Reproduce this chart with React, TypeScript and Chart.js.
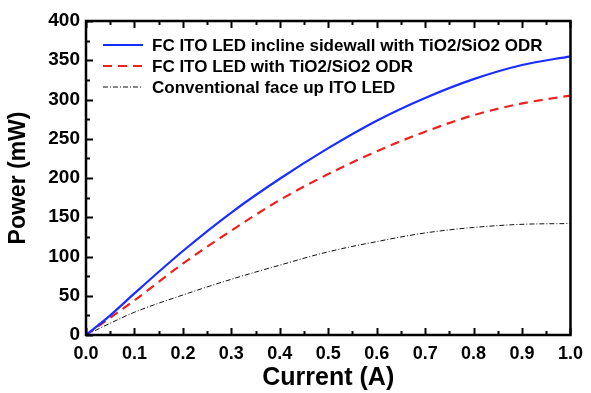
import React, { useEffect, useRef } from "react";
import { Chart, registerables } from "chart.js";

Chart.register(...registerables);

const currentA = [0, 0.05, 0.1, 0.2, 0.3, 0.4, 0.5, 0.6, 0.7, 0.8, 0.9, 1.0];
const inclineODR = [0, 25, 53, 107, 156, 199, 238, 273, 302, 326, 344, 355];
const flipChipODR = [0, 22, 44, 91, 133, 172, 205, 234, 259, 280, 295, 305];
const conventional = [0, 15, 29, 51, 71, 89, 106, 119, 130, 137, 141, 142];

const seriesLabels = [
  "FC ITO LED incline sidewall with TiO2/SiO2 ODR",
  "FC ITO LED with TiO2/SiO2 ODR",
  "Conventional face up ITO LED",
];
const xTitle = "Current (A)";
const yTitle = "Power (mW)";

const FONT = "'Liberation Sans', Arial, sans-serif";

const toPoints = (ys: number[]) => ys.map((y, i) => ({ x: currentA[i], y }));

const framePlugin = {
  id: "frameTicks",
  afterDatasetsDraw(chart: any) {
    const { ctx, chartArea } = chart;
    const { left, right, top, bottom } = chartArea;
    const xs = chart.scales.x;
    const ys = chart.scales.y;
    ctx.save();
    ctx.strokeStyle = "#000";
    ctx.lineWidth = 2;
    ctx.beginPath();
    for (let i = 0; i <= 20; i++) {
      const v = i * 0.05;
      const px = Math.round(xs.getPixelForValue(v)) + 0.5;
      const len = i % 2 === 0 ? 7 : 4;
      ctx.moveTo(px, bottom);
      ctx.lineTo(px, bottom - len);
      ctx.moveTo(px, top);
      ctx.lineTo(px, top + len);
    }
    for (let i = 0; i <= 16; i++) {
      const v = i * 25;
      const py = Math.round(ys.getPixelForValue(v)) + 0.5;
      const len = i % 2 === 0 ? 7 : 4;
      ctx.moveTo(left, py);
      ctx.lineTo(left + len, py);
    }
    ctx.stroke();
    ctx.lineWidth = 2.5;
    ctx.strokeRect(left, top, right - left, bottom - top);
    ctx.restore();
  },
};

const legendPlugin = {
  id: "innerLegend",
  afterDatasetsDraw(chart: any) {
    const { ctx } = chart;
    ctx.save();
    ctx.font = `bold 17px ${FONT}`;
    ctx.textBaseline = "middle";
    ctx.fillStyle = "#000";
    chart.data.datasets.forEach((ds: any, i: number) => {
      const y = 45 + i * 21;
      ctx.strokeStyle = ds.borderColor;
      ctx.lineWidth = ds.borderWidth;
      ctx.setLineDash(ds.borderDash || []);
      ctx.beginPath();
      ctx.moveTo(103, y);
      ctx.lineTo(143, y);
      ctx.stroke();
      ctx.setLineDash([]);
      ctx.fillText(ds.label, 152, y + 1);
    });
    ctx.restore();
  },
};

export default function App() {
  const ref = useRef<HTMLCanvasElement | null>(null);
  useEffect(() => {
    if (!ref.current) return;
    const chart = new Chart(ref.current, {
      type: "line",
      data: {
        datasets: [
          {
            label: seriesLabels[0],
            data: toPoints(inclineODR),
            borderColor: "#1a2eff",
            borderWidth: 2.2,
            pointRadius: 0,
            cubicInterpolationMode: "monotone",
          },
          {
            label: seriesLabels[1],
            data: toPoints(flipChipODR),
            borderColor: "#f02020",
            borderWidth: 2.2,
            borderDash: [9, 6],
            pointRadius: 0,
            cubicInterpolationMode: "monotone",
          },
          {
            label: seriesLabels[2],
            data: toPoints(conventional),
            borderColor: "#111",
            borderWidth: 1,
            borderDash: [5, 2, 1, 2],
            pointRadius: 0,
            cubicInterpolationMode: "monotone",
          },
        ],
      },
      options: {
        responsive: false,
        animation: false,
        layout: { padding: { top: 21, right: 15, left: 0, bottom: 0 } },
        plugins: { legend: { display: false }, tooltip: { enabled: false } },
        scales: {
          x: {
            type: "linear",
            min: 0,
            max: 1,
            grid: { display: false, drawTicks: false },
            border: { display: false },
            ticks: {
              stepSize: 0.1,
              padding: 8,
              color: "#000",
              font: { family: FONT, size: 18, weight: "bold" },
              callback: (v: any) => Number(v).toFixed(1),
              maxRotation: 0,
            },
            title: {
              display: true,
              text: xTitle,
              color: "#000",
              font: { family: FONT, size: 25, weight: "bold" },
              padding: { top: 0, bottom: 0 },
            },
            afterFit: (s: any) => {
              s.height = 58;
            },
          },
          y: {
            type: "linear",
            min: 0,
            max: 400,
            grid: { display: false, drawTicks: false },
            border: { display: false },
            ticks: {
              stepSize: 50,
              padding: 6,
              color: "#000",
              font: { family: FONT, size: 19, weight: "bold" },
            },
            title: {
              display: true,
              text: yTitle,
              color: "#000",
              font: { family: FONT, size: 23, weight: "bold" },
              padding: { top: 5, bottom: 0 },
            },
            afterFit: (s: any) => {
              s.width = 86;
            },
          },
        },
      },
      plugins: [framePlugin, legendPlugin],
    } as any);
    return () => chart.destroy();
  }, []);
  return (
    <div style={{ position: "fixed", left: 0, top: 0, width: 591, height: 393, background: "#fff" }}>
      <canvas ref={ref} width={591} height={393} style={{ width: 591, height: 393 }} />
    </div>
  );
}
